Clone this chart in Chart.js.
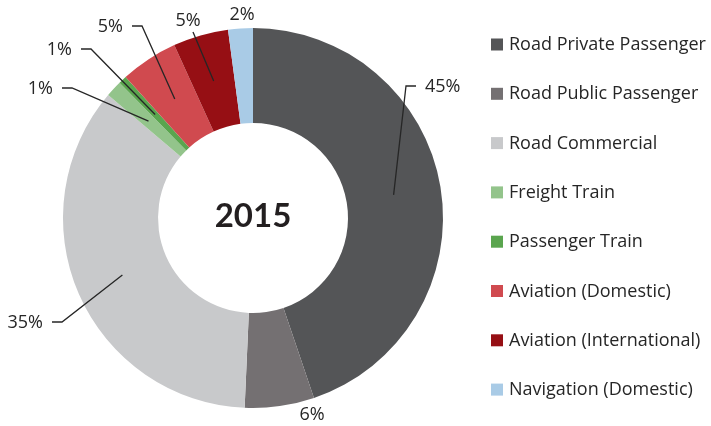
<!DOCTYPE html>
<html>
<head>
<meta charset="utf-8">
<script src="https://cdn.jsdelivr.net/npm/chart.js@4.4.1/dist/chart.umd.min.js"></script>
<style>
  html,body{margin:0;padding:0;background:#fff;}
</style>
</head>
<body>
<canvas id="chart" width="711" height="426"></canvas>
<script>
/* ---------- data ---------- */
const categories = ['Road Private Passenger','Road Public Passenger','Road Commercial','Freight Train','Passenger Train','Aviation (Domestic)','Aviation (International)','Navigation (Domestic)'];
const shares = [44.8, 5.9, 35.5, 1.4, 0.7, 4.9, 4.7, 2.1];
const shareLabels = ['45%','6%','35%','1%','1%','5%','5%','2%'];
const sliceColors = ['#545557','#747072','#c8c9cb','#93c48b','#5aa54e','#d04a4f','#960f14','#a9cbe6'];
const yearLabel = '2015';

/* ---------- where each % label sits, relative to the ring centre ---------- */
// dx,dy = text anchor; align = text alignment; lead = 'elbow' | 'line' | null
const labelSpots = [
  { dx: 172,  dy: -131, align: 'left',   lead: 'elbow' },
  { dx: 59,   dy: 197,  align: 'center', lead: null },
  { dx: -210, dy: 105,  align: 'right',  lead: 'elbow' },
  { dx: -200, dy: -129, align: 'right',  lead: 'elbow' },
  { dx: -181, dy: -168, align: 'right',  lead: 'elbow' },
  { dx: -130, dy: -191, align: 'right',  lead: 'elbow' },
  { dx: -65,  dy: -197, align: 'center', lead: 'line' },
  { dx: -11,  dy: -203, align: 'center', lead: null }
];

const FONT = '"Open Sans", Lato, sans-serif';

const pctLabels = {
  id: 'pctLabels',
  afterDatasetsDraw(chart){
    const {ctx} = chart;
    const meta = chart.getDatasetMeta(0);
    if(!meta.data.length) return;
    const cx = meta.data[0].x, cy = meta.data[0].y;
    ctx.save();
    ctx.font = '18px ' + FONT;
    ctx.fillStyle = '#262626';
    ctx.strokeStyle = '#262626';
    ctx.lineWidth = 1.3;
    ctx.textBaseline = 'middle';
    meta.data.forEach((arc, i) => {
      const s = labelSpots[i];
      const tx = cx + s.dx, ty = cy + s.dy;
      ctx.textAlign = s.align;
      ctx.fillText(shareLabels[i], tx, ty);
      const p = arc.getCenterPoint();
      if(s.lead === 'elbow'){
        const dir = s.align === 'left' ? -1 : 1;
        const x0 = tx + dir*9, x1 = x0 + dir*10, y0 = ty - 1;
        ctx.beginPath();
        ctx.moveTo(x0, y0); ctx.lineTo(x1, y0); ctx.lineTo(p.x, p.y);
        ctx.stroke();
      } else if(s.lead === 'line'){
        ctx.beginPath();
        ctx.moveTo(tx + 5, ty + 11); ctx.lineTo(p.x, p.y);
        ctx.stroke();
      }
    });
    ctx.restore();
  }
};

const centerText = {
  id: 'centerText',
  afterDatasetsDraw(chart){
    const meta = chart.getDatasetMeta(0);
    if(!meta.data.length) return;
    const {ctx} = chart;
    ctx.save();
    ctx.font = 'bold 33px Lato, "Open Sans", sans-serif';
    ctx.fillStyle = '#231f20';
    ctx.textAlign = 'center';
    ctx.textBaseline = 'middle';
    ctx.fillText(yearLabel, meta.data[0].x, meta.data[0].y - 2);
    ctx.restore();
  }
};

// legend drawn by hand so the rows keep the wide spacing of the original
const sideLegend = {
  id: 'sideLegend',
  afterDraw(chart, args, opts){
    const {ctx, chartArea} = chart;
    const left = chartArea.right + opts.gap;
    ctx.save();
    ctx.font = opts.size + 'px ' + FONT;
    ctx.textBaseline = 'middle';
    ctx.textAlign = 'left';
    chart.data.labels.forEach((lab, i) => {
      const y = opts.top + i * opts.step;
      ctx.fillStyle = chart.data.datasets[0].backgroundColor[i];
      ctx.fillRect(left, y - 6, 12, 12);
      ctx.fillStyle = '#262626';
      ctx.fillText(lab, left + 18, y + 0.5);
    });
    ctx.restore();
  }
};

new Chart(document.getElementById('chart'), {
  type: 'doughnut',
  data: {
    labels: categories,
    datasets: [{
      data: shares,
      backgroundColor: sliceColors,
      borderWidth: 0,
      hoverOffset: 0
    }]
  },
  options: {
    responsive: false,
    animation: false,
    cutout: '50%',
    layout: { padding: { left: 18, top: 28, bottom: 18, right: 223 } },
    plugins: {
      tooltip: { enabled: false },
      legend: { display: false },
      sideLegend: { gap: 3, top: 44.5, step: 49.3, size: 18 }
    }
  },
  plugins: [pctLabels, centerText, sideLegend]
});
</script>
</body>
</html>
